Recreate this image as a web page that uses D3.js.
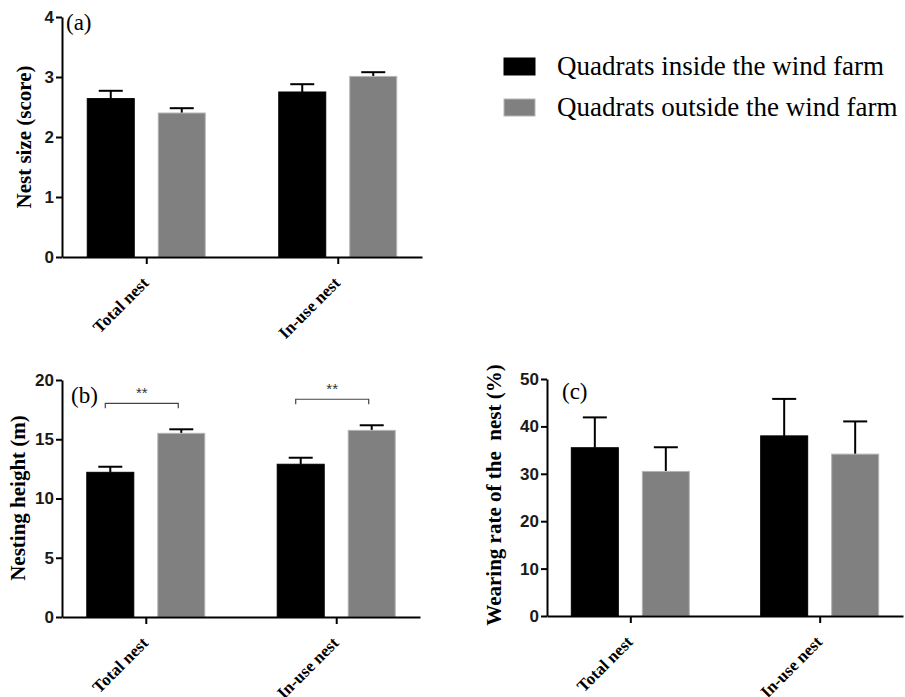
<!DOCTYPE html>
<html>
<head>
<meta charset="utf-8">
<script src="https://cdn.jsdelivr.net/npm/d3@7"></script>
<style>
  body { margin: 0; background: #fff; }
  svg { display: block; }
</style>
</head>
<body>
<div id="chart"></div>
<script>
// nest comparison, three bar panels (a) (b) (c)

var categories = ["Total nest", "In-use nest"];
var seriesNames = ["Quadrats inside the wind farm", "Quadrats outside the wind farm"];
var seriesColors = ["#000000", "#808080"];

// (a) nest size
var sizeInside = [2.64, 2.75];
var sizeInsideErr = [0.13, 0.13];
var sizeOutside = [2.40, 3.01];
var sizeOutsideErr = [0.08, 0.07];
var sizeTicks = [0, 1, 2, 3, 4];

// (b) nesting height
var heightInside = [12.21, 12.89];
var heightInsideErr = [0.47, 0.55];
var heightOutside = [15.50, 15.75];
var heightOutsideErr = [0.34, 0.43];
var heightTicks = [0, 5, 10, 15, 20];
var heightSig = ["**", "**"];

// (c) wearing rate
var wearInside = [35.5, 38.0];
var wearInsideErr = [6.4, 7.8];
var wearOutside = [30.5, 34.15];
var wearOutsideErr = [5.1, 6.9];
var wearTicks = [0, 10, 20, 30, 40, 50];

var width = 905, height = 697;
var serif = "'Liberation Serif', 'Times New Roman', serif";
var sans = "'Liberation Sans', Arial, sans-serif";

var svg = d3.select('#chart')
    .append('svg')
    .attr('width', width)
    .attr('height', height);

function drawPanel(opt) {
    var g = svg.append('g');

    var x = d3.scalePoint()
        .domain(categories)
        .range([opt.left, opt.right])
        .padding(0.44);

    var inner = d3.scaleBand()
        .domain([0, 1])
        .range([-59, 59])
        .paddingInner(0.338);

    var y = d3.scaleLinear()
        .domain([0, opt.ticks[opt.ticks.length - 1]])
        .range([opt.bottom, opt.top]);

    var rows = [];
    categories.forEach(function(c, i) {
        rows.push({ cat: c, s: 0, v: opt.inside[i], e: opt.insideErr[i] });
        rows.push({ cat: c, s: 1, v: opt.outside[i], e: opt.outsideErr[i] });
    });

    // error bars (upper only)
    var err = g.append('g');
    rows.forEach(function(d) {
        var cx = x(d.cat) + inner(d.s) + inner.bandwidth() / 2;
        err.append('line')
            .attr('x1', cx).attr('x2', cx)
            .attr('y1', y(d.v)).attr('y2', y(d.v + d.e))
            .attr('stroke', '#000').attr('stroke-width', 2);
        err.append('line')
            .attr('x1', cx - 12).attr('x2', cx + 12)
            .attr('y1', y(d.v + d.e)).attr('y2', y(d.v + d.e))
            .attr('stroke', '#000').attr('stroke-width', 2);
    });

    // bars
    g.append('g').selectAll('rect')
        .data(rows)
        .enter()
        .append('rect')
        .attr('x', function(d) { return x(d.cat) + inner(d.s); })
        .attr('y', function(d) { return y(d.v); })
        .attr('width', inner.bandwidth())
        .attr('height', function(d) { return y(0) - y(d.v); })
        .attr('fill', function(d) { return seriesColors[d.s]; })
        .attr('stroke', function(d) { return d.s === 0 ? '#000' : '#b5b5b5'; })
        .attr('stroke-width', 1);

    // y axis
    var yAxis = g.append('g')
        .attr('transform', 'translate(' + opt.left + ',0)')
        .call(d3.axisLeft(y).tickValues(opt.ticks).tickFormat(d3.format('d'))
            .tickSize(6).tickPadding(2).tickSizeOuter(0));
    yAxis.select('.domain').attr('stroke', '#000').attr('stroke-width', 2);
    yAxis.selectAll('.tick line').attr('stroke', '#000').attr('stroke-width', 2);
    yAxis.selectAll('.tick text')
        .attr('font-family', sans)
        .attr('font-weight', 'bold')
        .attr('font-size', '17px')
        .attr('fill', '#1a1a1a');

    // x axis
    var xAxis = g.append('g')
        .attr('transform', 'translate(0,' + opt.bottom + ')')
        .call(d3.axisBottom(x).tickSize(7).tickSizeOuter(0));
    xAxis.select('.domain').attr('stroke', '#000').attr('stroke-width', 2);
    xAxis.selectAll('.tick line').attr('stroke', '#000').attr('stroke-width', 2);
    xAxis.selectAll('.tick text')
        .attr('font-family', serif)
        .attr('font-weight', 'bold')
        .attr('font-size', '17px')
        .attr('fill', '#000')
        .attr('text-anchor', 'end')
        .attr('dy', 0)
        .attr('y', 0)
        .attr('transform', 'translate(3,27) rotate(-45)');

    // y title
    g.append('text')
        .attr('transform', 'translate(' + opt.titleX + ',' + opt.titleY + ') rotate(-90)')
        .attr('text-anchor', 'middle')
        .attr('font-family', serif)
        .attr('font-weight', 'bold')
        .attr('font-size', '21px')
        .attr('xml:space', 'preserve')
        .style('white-space', 'pre')
        .text(opt.title);

    // panel letter
    g.append('text')
        .attr('x', opt.letterX)
        .attr('y', opt.letterY)
        .attr('font-family', serif)
        .attr('font-size', '23px')
        .text(opt.letter);

    // significance brackets
    if (opt.sig) {
        var sg = g.append('g');
        categories.forEach(function(c, i) {
            var x1 = x(c) + inner(0) + inner.bandwidth() / 2 - 5;
            var x2 = x(c) + inner(1) + inner.bandwidth() / 2 - 3;
            var top = Math.max(opt.inside[i] + opt.insideErr[i], opt.outside[i] + opt.outsideErr[i]);
            var by = y(top) - 26;
            sg.append('path')
                .attr('d', 'M' + x1 + ',' + (by + 5) + 'V' + by + 'H' + x2 + 'V' + (by + 5))
                .attr('fill', 'none')
                .attr('stroke', '#444')
                .attr('stroke-width', 1.2);
            sg.append('text')
                .attr('x', (x1 + x2) / 2)
                .attr('y', by - 5)
                .attr('text-anchor', 'middle')
                .attr('font-family', sans)
                .attr('font-size', '15px')
                .attr('fill', '#333')
                .text(opt.sig[i]);
        });
    }
}

drawPanel({
    left: 62, right: 422, top: 17, bottom: 257,
    ticks: sizeTicks,
    inside: sizeInside, insideErr: sizeInsideErr,
    outside: sizeOutside, outsideErr: sizeOutsideErr,
    title: 'Nest size (score)', titleX: 31, titleY: 137,
    letter: '(a)', letterX: 66, letterY: 30
});

drawPanel({
    left: 62, right: 420, top: 380, bottom: 617,
    ticks: heightTicks,
    inside: heightInside, insideErr: heightInsideErr,
    outside: heightOutside, outsideErr: heightOutsideErr,
    title: 'Nesting height (m)', titleX: 25, titleY: 498,
    letter: '(b)', letterX: 71, letterY: 403,
    sig: heightSig
});

drawPanel({
    left: 547, right: 903, top: 379, bottom: 616,
    ticks: wearTicks,
    inside: wearInside, insideErr: wearInsideErr,
    outside: wearOutside, outsideErr: wearOutsideErr,
    title: 'Wearing rate of the  nest (%)', titleX: 501, titleY: 495,
    letter: '(c)', letterX: 562, letterY: 399
});

// legend
var legend = svg.append('g');
seriesNames.forEach(function(name, i) {
    var ly = 58 + i * 41;
    legend.append('rect')
        .attr('x', 504).attr('y', ly)
        .attr('width', 31).attr('height', 17)
        .attr('fill', seriesColors[i])
        .attr('stroke', i === 0 ? '#000' : '#b5b5b5');
    legend.append('text')
        .attr('x', 557).attr('y', ly + 17)
        .attr('font-family', serif)
        .attr('font-size', '27px')
        .text(name);
});
</script>
</body>
</html>
